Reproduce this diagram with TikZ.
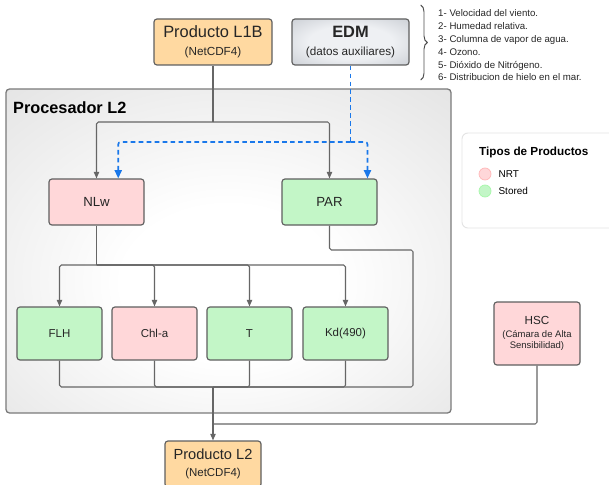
\documentclass[tikz,border=0pt]{standalone}
\usepackage{fontspec}
\setmainfont{Liberation Sans}
\usetikzlibrary{positioning,arrows.meta,calc,decorations.pathreplacing}
\definecolor{edge1}{HTML}{5F5F5F}
\definecolor{line1}{HTML}{666666}
\definecolor{orange1}{HTML}{FFD9A1}
\definecolor{pink1}{HTML}{FFD7D9}
\definecolor{green1}{HTML}{C3F6C7}
\definecolor{blue1}{HTML}{1A78EA}
\definecolor{gray1}{HTML}{D8D8D8}
\definecolor{gray2}{HTML}{7A7A7A}
\definecolor{edmlight}{HTML}{EEF0F3}
\definecolor{edmdark}{HTML}{B2B7BF}
\definecolor{legend1}{HTML}{E4E4E4}
\pgfdeclareradialshading{procshade}{\pgfpoint{0bp}{-6bp}}{color(0bp)=(white);
  color(12bp)=(white); color(50bp)=(gray1); color(72bp)=(gray1!92!black)}
\pgfdeclareradialshading{edmshade}{\pgfpoint{0bp}{0bp}}{color(0bp)=(edmlight);
  color(18bp)=(edmlight); color(50bp)=(edmdark); color(72bp)=(edmdark)}

\begin{document}
\begin{tikzpicture}[
    box/.style={draw=edge1, line width=1pt, rounded corners=2.5pt,
                align=center, text=black!85, inner sep=0pt},
    prod/.style={box, fill=orange1, minimum height=1.38cm},
    var/.style={box, minimum width=2.85cm, minimum height=1.38cm,
                font=\fontsize{11.3}{13}\selectfont},
    leaf/.style={box, minimum width=2.55cm, minimum height=1.59cm,
                 font=\fontsize{9.8}{12}\selectfont},
    conn/.style={draw=line1, line width=0.9pt, rounded corners=1.5pt},
    flow/.style={conn, -{Triangle[length=5.5pt, width=4.5pt]}},
    aux/.style={draw=blue1, line width=1.4pt, dash pattern=on 4pt off 2.8pt,
                rounded corners=2pt},
    auxtip/.style={aux, -{Triangle[length=7pt, width=6pt]}},
    dot/.style={circle, minimum size=0.36cm, inner sep=0pt, line width=0.6pt},
]
\useasboundingbox (0,0) rectangle (18.27,-14.55);
\clip (0,0) rectangle (18.27,-14.55);

% processor frame
\node[draw=gray2, line width=1.1pt, rounded corners=3pt, shading=procshade,
      minimum width=13.35cm, minimum height=9.72cm] (proc) at (6.855,-7.53) {};
\node[anchor=base west, inner sep=0pt,
      font=\bfseries\fontsize{13.9}{16}\selectfont] (proctitle)
    at (0.39,-3.40) {Procesador L2};

% inputs
\node[prod, minimum width=3.54cm, font=\fontsize{10}{15.4}\selectfont] (l1b)
    at (6.39,-1.26) {{\fontsize{14}{15.4}\selectfont Producto L1B}\\(NetCDF4)};
\node[box, shading=edmshade, minimum width=3.51cm, minimum height=1.38cm,
      font=\fontsize{10}{15.8}\selectfont] (edm)
    at (10.515,-1.26) {{\bfseries\fontsize{14}{15.8}\selectfont EDM}\\(datos auxiliares)};

\draw[decorate, decoration={brace, amplitude=0.2cm}, line width=0.8pt,
      black!70] (12.62,-0.15) -- (12.62,-2.4);
\foreach \n/\item in {1/Velocidad del viento., 2/Humedad relativa.,
                      3/Columna de vapor de agua., 4/Ozono.,
                      5/Dióxido de Nitrógeno., 6/Distribucion de hielo en el mar.}
    \node[anchor=base west, inner sep=0pt, text=black!85,
          font=\fontsize{8.25}{10}\selectfont] (var\n)
        at (13.14,-0.12-\n*0.384) {\n- \item};

% products
\node[var, fill=pink1] (nlw) at (2.895,-6.06) {NLw};
\node[var, fill=green1] (par) at (9.885,-6.06) {PAR};
\node[leaf, fill=green1] (flh) at (1.785,-10.005) {FLH};
\node[leaf, fill=pink1] (chl) at (4.635,-10.005) {Chl-a};
\node[leaf, fill=green1] (t) at (7.485,-10.005) {T};
\node[leaf, fill=green1] (kd) at (10.365,-10.005) {Kd(490)};

\node[box, fill=pink1, minimum width=2.58cm, minimum height=1.89cm,
      font=\fontsize{8.1}{10}\selectfont] (hsc)
    at (16.11,-10.005) {{\fontsize{10}{10}\selectfont HSC}\\[1pt](Cámara de Alta\\Sensibilidad)};

\node[prod, minimum width=2.88cm, font=\fontsize{9.8}{15}\selectfont] (l2)
    at (6.39,-13.92) {{\fontsize{12.5}{15}\selectfont Producto L2}\\(NetCDF4)};

% legend
\node[draw=legend1, fill=white, line width=0.8pt, rounded corners=5pt,
      minimum width=4.6cm, minimum height=2.85cm] (legend) at (16.16,-5.415) {};
\node[anchor=west, inner sep=0pt, font=\bfseries\fontsize{10}{12}\selectfont]
    (legtitle) at (14.37,-4.56) {Tipos de Productos};
\node[dot, fill=pink1, draw=pink1!85!red] (nrtdot) at (14.55,-5.22) {};
\node[dot, fill=green1, draw=green1!85!green] (storeddot) at (14.55,-5.73) {};
\node[right=0.21cm of nrtdot, inner sep=0pt, font=\fontsize{8.5}{10}\selectfont]
    (nrtlabel) {NRT};
\node[right=0.21cm of storeddot, inner sep=0pt, font=\fontsize{8.5}{10}\selectfont]
    (storedlabel) {Stored};

% connectors
\coordinate (split1) at (6.39,-3.66);
\draw[conn] (l1b.south) -- (split1);
\draw[flow] (split1) -| (nlw.north);
\draw[flow] (split1) -| (par.north);

\coordinate (auxsplit) at (10.515,-4.26);
\draw[aux] (edm.south) -- (auxsplit);
\draw[auxtip] (auxsplit) -| ($(nlw.north west)!0.726!(nlw.north east)$);
\draw[auxtip] (auxsplit) -| ($(par.north west)!0.895!(par.north east)$);

\coordinate (split2) at (2.895,-7.95);
\draw[conn] (nlw.south) -- (split2);
\foreach \leaf in {flh,chl,t,kd}
    \draw[flow] (split2) -| (\leaf.north);

\coordinate (merge) at (6.39,-11.61);
\coordinate (parbend) at (12.39,-7.5);
\foreach \leaf in {flh,chl,t,kd}
    \draw[conn] (\leaf.south) |- (merge);
\draw[conn] (par.south) |- (parbend) |- (merge);
\draw[flow] (merge) -- (l2.north);

\coordinate (hscjoin) at (6.39,-12.72);
\draw[conn] (hsc.south) |- (hscjoin);
\end{tikzpicture}
\end{document}
